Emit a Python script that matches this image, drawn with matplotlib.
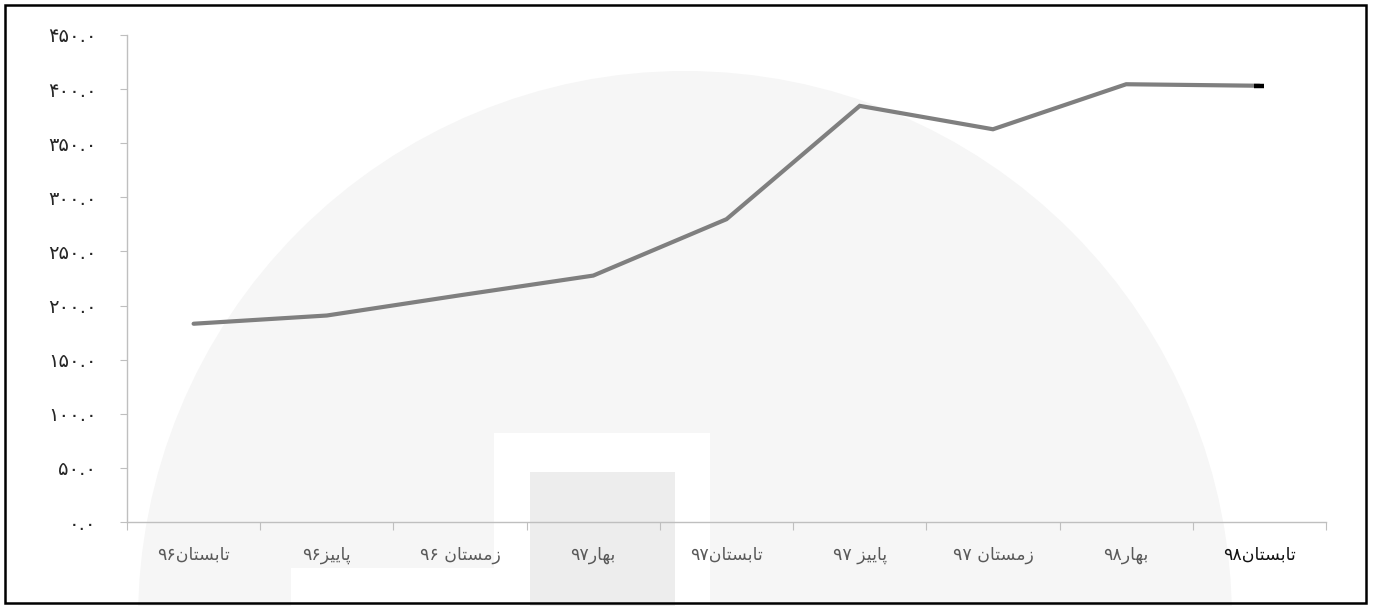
import matplotlib
matplotlib.use("Agg")
import matplotlib.pyplot as plt
from matplotlib.patches import Ellipse, Rectangle
import numpy as np

# --- data ---
seasons = ['تابستان۹۶', 'پاییز۹۶', 'زمستان ۹۶', 'بهار۹۷', 'تابستان۹۷',
           'پاییز ۹۷', 'زمستان ۹۷', 'بهار۹۸', 'تابستان۹۸']
values = [183.2, 190.8, 209.5, 227.7, 279.8, 384.5, 362.9, 404.5, 403.1]
y_ticks = [0, 50, 100, 150, 200, 250, 300, 350, 400, 450]

# presentation forms: isolated, final, initial, medial
FORMS = {
    'ا': ('\uFE8D', '\uFE8E', None, None),
    'ب': ('\uFE8F', '\uFE90', '\uFE91', '\uFE92'),
    'پ': ('\uFB56', '\uFB57', '\uFB58', '\uFB59'),
    'ت': ('\uFE95', '\uFE96', '\uFE97', '\uFE98'),
    'ر': ('\uFEAD', '\uFEAE', None, None),
    'ز': ('\uFEAF', '\uFEB0', None, None),
    'س': ('\uFEB1', '\uFEB2', '\uFEB3', '\uFEB4'),
    'م': ('\uFEE1', '\uFEE2', '\uFEE3', '\uFEE4'),
    'ن': ('\uFEE5', '\uFEE6', '\uFEE7', '\uFEE8'),
    'ه': ('\uFEE9', '\uFEEA', '\uFEEB', '\uFEEC'),
    'ی': ('\uFBFC', '\uFBFD', '\uFBFE', '\uFBFF'),
}
FA_DIGITS = str.maketrans('0123456789', '۰۱۲۳۴۵۶۷۸۹')


def shape(word):
    out = []
    for i, ch in enumerate(word):
        if ch not in FORMS:
            out.append(ch)
            continue
        prev = word[i - 1] if i > 0 else ''
        nxt = word[i + 1] if i + 1 < len(word) else ''
        join_prev = prev in FORMS and FORMS[prev][2] is not None
        join_next = nxt in FORMS and FORMS[ch][2] is not None
        iso, fin, ini, med = FORMS[ch]
        if join_prev and join_next:
            out.append(med)
        elif join_prev:
            out.append(fin)
        elif join_next:
            out.append(ini)
        else:
            out.append(iso)
    return ''.join(out)


def visual(label):
    # right-to-left display: year digits end up on the left of the word
    k = 0
    while k < len(label) and label[k] in FORMS:
        k += 1
    word, rest = label[:k], label[k:]
    digits = rest.lstrip()
    sep = rest[:len(rest) - len(digits)]
    return digits + sep + shape(word)[::-1]


def fa_num(v):
    return f"{v:.1f}".translate(FA_DIGITS)


W, H = 1375, 606
fig = plt.figure(figsize=(W / 100, H / 100), dpi=100)
plt.rcParams['font.family'] = ['DejaVu Sans']

# faint watermark behind the chart
fig.add_artist(Ellipse((685 / W, 1 - 620 / H), 2 * 547 / W, 2 * 549 / H,
                       transform=fig.transFigure, facecolor='#f6f6f6',
                       edgecolor='none', zorder=-3))
fig.add_artist(Rectangle((494 / W, 0), 216 / W, (606 - 433) / H,
                         transform=fig.transFigure, facecolor='white',
                         edgecolor='none', zorder=-2))
fig.add_artist(Rectangle((291 / W, 0), 203 / W, (606 - 568) / H,
                         transform=fig.transFigure, facecolor='white',
                         edgecolor='none', zorder=-2))
fig.add_artist(Rectangle((530 / W, 0), 145 / W, (606 - 472) / H,
                         transform=fig.transFigure, facecolor='#ededed',
                         edgecolor='none', zorder=-1))

ax = fig.add_axes([127 / W, 1 - 522 / H, (1326 - 127) / W, (522 - 35) / H])
ax.set_facecolor('none')

x = np.arange(len(seasons))
ax.plot(x, values, color='#7f7f7f', lw=3.0, solid_capstyle='round',
        solid_joinstyle='miter', zorder=3)
ax.plot(x[-1:], values[-1:], marker='_', color='black', ms=7, mew=3.2,
        zorder=4)

ax.set_xlim(-0.5, len(seasons) - 0.5)
ax.set_ylim(0, 450)

ax.set_yticks(y_ticks)
ax.set_yticklabels([fa_num(v) for v in y_ticks])
ax.tick_params(axis='y', length=5, width=0.8, color='#bfbfbf', pad=17,
               labelsize=14, labelcolor='#262626')

ax.set_xticks(np.arange(len(seasons) + 1) - 0.5)
ax.set_xticklabels([])
ax.set_xticks(x, minor=True)
ax.set_xticklabels([visual(s) for s in seasons], minor=True)
ax.tick_params(axis='x', which='major', length=6, width=0.8, color='#bfbfbf')
ax.tick_params(axis='x', which='minor', length=0, pad=17, labelsize=12.5,
               labelcolor='#595959')
ax.get_xticklabels(minor=True)[-1].set_color('#111111')

for side in ['top', 'right']:
    ax.spines[side].set_visible(False)
for side in ['left', 'bottom']:
    ax.spines[side].set_color('#bfbfbf')
    ax.spines[side].set_linewidth(1.0)

# outer frame
fig.add_artist(Rectangle((5 / W, 3 / H), (1366 - 5) / W, (601 - 3) / H,
                         transform=fig.transFigure, facecolor='none',
                         edgecolor='black', lw=1.8, zorder=5))

fig.savefig('out.png', dpi=100)
